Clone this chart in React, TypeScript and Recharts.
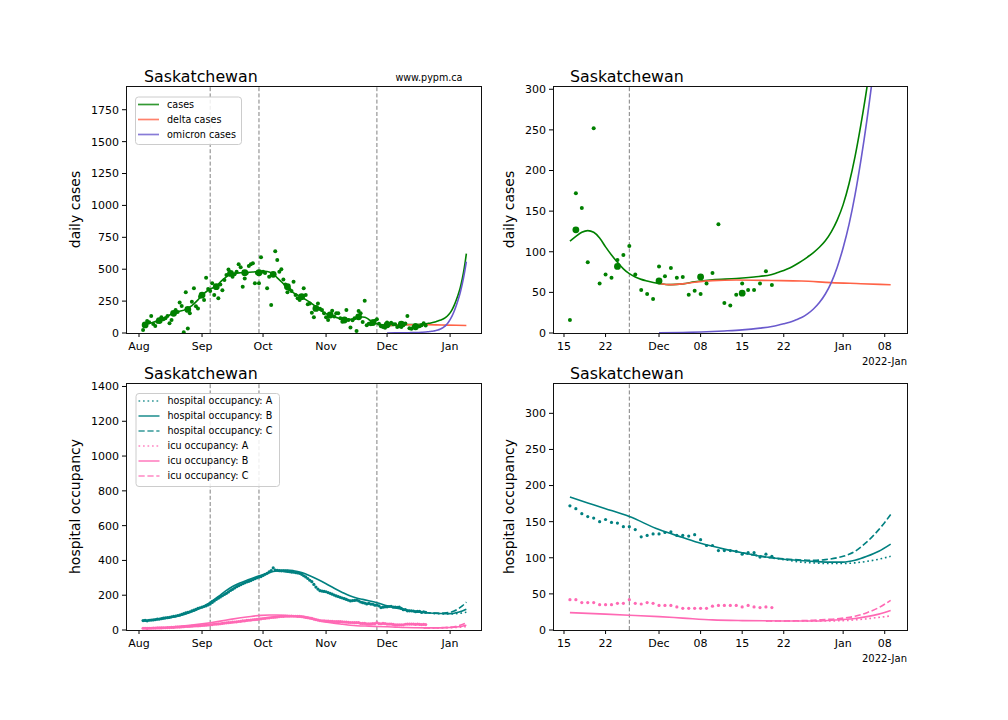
import React from "react";
import { ComposedChart, Line, ReferenceLine, Scatter, XAxis, YAxis } from "recharts";

const FONT = "DejaVu Sans, sans-serif";

// day 0 = 2021-08-01
const monthTickDays = [0, 31, 61, 92, 122, 153];
const monthTickLabels = ["Aug", "Sep", "Oct", "Nov", "Dec", "Jan"];
const zoomTickDays = [106, 113, 122, 129, 136, 143, 153, 160];
const zoomTickLabels = ["15", "22", "Dec", "08", "15", "22", "Jan", "08"];
const markerDays = [35, 59, 117];
const zoomFrom = 107;

const casesTicks = [0, 250, 500, 750, 1000, 1250, 1500, 1750];
const casesZoomTicks = [0, 50, 100, 150, 200, 250, 300];
const hospTicks = [0, 200, 400, 600, 800, 1000, 1200, 1400];
const hospZoomTicks = [0, 50, 100, 150, 200, 250, 300];

// daily reported cases, from day 2
const dailyStart = 2;
const dailyCases = [
  23, 60, 95, 84, 133, 70, 55, 89, 100, 123,
  107, 115, 133, 76, 102, 150, 180, 165, 240, 212,
  5, 319, 36, 154, 244, 350, 210, 193, 285, 300,
  258, 433, 345, 330, 389, 297, 360, 272, 380, 335,
  415, 455, 498, 470, 441, 460, 480, 538, 515, 363,
  428, 470, 525, 538, 546, 389, 470, 389, 593, 480,
  470, 350, 441, 220, 455, 640, 572, 480, 499, 420,
  380, 319, 342, 330, 402, 297, 272, 258, 290, 350,
  297, 226, 232, 159, 123, 200, 232, 190, 180, 154,
  123, 102, 140, 175, 130, 154, 154, 115, 89, 105,
  180, 102, 44, 100, 115, 16, 172, 154, 87, 252,
  61, 72, 68, 90, 96, 107, 72, 53, 48, 42,
  82, 70, 80, 68, 69, 47, 52, 48, 61, 74,
  134, 37, 34, 47, 61, 53, 53, 61, 76, 59,
];

const weeklyDays = [3, 10, 17, 24, 31, 38, 45, 52, 59, 66, 73, 80, 87, 94, 101, 108, 115, 122, 129, 136];
const weeklyCases = [63, 97, 154, 185, 297, 363, 467, 473, 473, 460, 363, 285, 193, 141, 102, 127, 82, 64, 69, 49];

const casesFitDays = [
  2, 5, 8, 11, 14, 17, 20, 23, 26, 29, 31, 34, 38, 41, 44, 47, 50, 53, 56, 59, 62, 64, 66, 68, 70,
  72, 74, 76, 78, 80, 82, 84, 86, 88, 90, 92, 94, 96, 98, 100, 102, 104, 106, 107, 108, 109, 110,
  111, 112, 113, 114, 115, 116, 117, 118, 119, 120, 122, 124, 126, 128, 131, 135, 138, 141, 142, 143,
  144, 145, 146, 147, 148, 149, 150, 151, 152, 153, 154, 155, 156, 157, 158, 159, 160, 161,
];
const casesFit = [
  62, 74, 90, 108, 132, 155, 170, 185, 215, 260, 295, 335, 368, 415, 452, 468, 472, 474, 478, 483,
  484, 478, 462, 432, 402, 370, 340, 315, 298, 280, 262, 242, 218, 192, 170, 152, 136, 126, 118, 110,
  107, 108, 111, 113, 119, 124, 126, 124, 117, 106, 96, 87, 79, 73, 69, 66, 64, 61, 59.5, 60.5, 63,
  65.5, 67, 69, 72, 74.5, 77, 80, 84, 88.5, 93.5, 99, 105.5, 113.5, 124.5, 139, 158, 184, 217, 257,
  302, 355, 425, 512, 622,
];

const deltaDays = [122, 124, 126, 128, 131, 135, 141, 146, 151, 156, 161];
const deltaCases = [61, 59.5, 60.5, 62.5, 64.5, 65.2, 64.6, 64, 62, 60.7, 59.3];

const omicronDays = [
  122, 126, 130, 133, 136, 139, 141, 142, 143, 144, 145, 146, 147, 148, 149, 150, 151, 152, 153, 154,
  155, 156, 157, 158, 159, 160, 161,
];
const omicronCases = [
  0.3, 0.7, 1.5, 2.5, 3.8, 6, 8, 9.5, 11.3, 13.3, 16, 19, 23.5, 29.5, 37.5, 48, 62, 81, 105, 134, 170,
  213, 262, 318, 385, 465, 560,
];

// daily occupancy data, from day 2
const hospData = [
  54, 55, 53, 56, 57, 58, 60, 62, 63, 65,
  68, 70, 71, 73, 76, 78, 80, 83, 86, 90,
  94, 98, 101, 105, 110, 114, 119, 124, 128, 131,
  135, 139, 144, 150, 158, 167, 176, 183, 190, 197,
  204, 211, 219, 227, 234, 242, 249, 255, 260, 266,
  271, 276, 280, 284, 290, 295, 300, 304, 307, 314,
  320, 326, 334, 342, 357, 345, 343, 341, 340, 340,
  338, 337, 335, 333, 332, 330, 328, 326, 320, 312,
  305, 296, 286, 278, 262, 247, 235, 226, 224, 222,
  220, 215, 211, 206, 201, 196, 192, 188, 184, 180,
  176, 171, 167, 169, 170, 172, 168, 161, 157, 155,
  150, 153, 149, 148, 143, 143, 139, 129, 131, 133,
  133, 135, 136, 131, 131, 130, 132, 125, 117, 117,
  110, 110, 110, 109, 105, 107, 107, 101, 105, 102,
];
const icuData = [
  10, 10, 9, 10, 10, 11, 11, 12, 12, 12,
  13, 13, 14, 14, 15, 15, 16, 17, 17, 18,
  19, 20, 20, 21, 22, 23, 24, 24, 25, 26,
  27, 28, 29, 30, 31, 33, 34, 35, 36, 38,
  40, 41, 42, 43, 45, 46, 47, 49, 50, 52,
  53, 55, 56, 57, 59, 60, 61, 63, 64, 66,
  67, 69, 70, 72, 73, 74, 75, 77, 78, 78,
  79, 79, 79, 80, 79, 79, 78, 78, 77, 75,
  73, 71, 69, 67, 63, 60, 57, 54, 53, 52,
  51, 51, 50, 50, 49, 49, 48, 48, 47, 46,
  45, 44, 43, 43, 42, 42, 42, 38, 38, 38,
  35, 35, 35, 37, 37, 42, 37, 36, 38, 37,
  34, 34, 34, 32, 30, 30, 30, 30, 30, 33,
  34, 34, 34, 34, 32, 34, 32, 31, 32, 31,
];

const hospBDays = [
  2, 6, 10, 15, 20, 25, 30, 33, 36, 40, 43, 46, 50, 54, 58, 62, 66, 70, 73, 76, 80, 84, 88, 92, 96,
  100, 104, 107, 110, 113, 117, 122, 126, 129, 133, 136, 140, 143, 148, 150, 153, 155, 157, 159, 161,
];
const hospB = [
  54, 57, 62, 70, 82, 100, 125, 145, 168, 200, 228, 250, 272, 290, 307, 322, 336, 343, 345, 341,
  330, 312, 290, 266, 240, 216, 195, 184, 176, 168, 157, 139, 128, 120, 112, 107, 101, 98, 95, 94,
  94, 96.5, 102, 109, 119,
];
const hospADays = [136, 140, 143, 146, 148, 150, 152, 153, 155, 157, 159, 161];
const hospA = [107, 101, 97.5, 94, 93, 92, 92, 92, 93, 95, 98, 102];
const hospCDays = [136, 140, 143, 146, 148, 150, 152, 153, 154, 155, 156, 157, 158, 159, 160, 161];
const hospC = [107, 101, 98.5, 97, 96.5, 97.5, 100, 102, 105, 109, 115, 122, 130, 139, 149, 160];

const icuBDays = [
  2, 6, 10, 15, 20, 25, 30, 35, 40, 45, 50, 55, 60, 64, 68, 72, 76, 80, 85, 90, 95, 100, 104, 107,
  110, 113, 117, 122, 126, 131, 136, 143, 148, 151, 153, 155, 157, 159, 161,
];
const icuB = [
  10, 11, 13, 16, 21, 27, 34, 42, 51, 61, 70, 78, 84, 86, 86, 84, 80, 75, 63, 51, 41, 33, 27, 24,
  23, 22, 20.5, 18.5, 16.5, 14, 13, 12.5, 12.5, 13.5, 14.5, 16, 18.5, 22, 27,
];
const icuADays = [140, 143, 148, 150, 153, 155, 157, 159, 161];
const icuA = [12.5, 12.5, 12.3, 12.5, 13, 14, 15.5, 17.5, 19.5];
const icuCDays = [140, 143, 146, 148, 150, 152, 153, 155, 157, 159, 161];
const icuC = [12.5, 12.5, 13, 13.5, 14.5, 15.5, 16.5, 19, 24, 31, 41];

type Pt = { day: number; v: number };
const pairs = (days: number[], vals: number[]): Pt[] => days.map((d, i) => ({ day: d, v: vals[i] }));
const daily = (start: number, vals: number[]): Pt[] => vals.map((v, i) => ({ day: start + i, v }));
const recent = (pts: Pt[]) => pts.filter((p) => p.day >= zoomFrom);

const casesPts = daily(dailyStart, dailyCases);
const weeklyPts = pairs(weeklyDays, weeklyCases);
const fitPts = pairs(casesFitDays, casesFit);
const deltaPts = pairs(deltaDays, deltaCases);
const omicronPts = pairs(omicronDays, omicronCases);
const hospPts = daily(dailyStart, hospData);
const icuPts = daily(dailyStart, icuData);

const DOTTED = "1.7 2.8";
const DASHED = "6.2 2.7";

const caseSeries = [
  { name: "cases", color: "#008000", dash: "" },
  { name: "delta cases", color: "#ff6347", dash: "" },
  { name: "omicron cases", color: "#6a5acd", dash: "" },
];
const occSeries = [
  { name: "hospital occupancy: A", color: "#008080", dash: DOTTED },
  { name: "hospital occupancy: B", color: "#008080", dash: "" },
  { name: "hospital occupancy: C", color: "#008080", dash: DASHED },
  { name: "icu occupancy: A", color: "#ff69b4", dash: DOTTED },
  { name: "icu occupancy: B", color: "#ff69b4", dash: "" },
  { name: "icu occupancy: C", color: "#ff69b4", dash: DASHED },
];

const YW = 60;
const MR = 10;
const MT = 10;
const XH = 30;

type PanelProps = {
  x: number;
  y: number;
  w: number;
  h: number;
  xDomain: [number, number];
  xTicks: number[];
  xLabels: string[];
  yDomain: [number, number];
  yTicks: number[];
  children: React.ReactNode;
};

function Panel({ x, y, w, h, xDomain, xTicks, xLabels, yDomain, yTicks, children }: PanelProps) {
  const fmt = (d: number) => xLabels[xTicks.indexOf(d)] ?? "";
  const tick = { fill: "#000", fontSize: 11, fontFamily: FONT };
  return (
    <>
      <div style={{ position: "absolute", left: x - YW, top: y - MT }}>
        <ComposedChart
          width={YW + w + MR}
          height={MT + h + XH}
          margin={{ top: MT, right: MR, bottom: 0, left: 0 }}
        >
          <XAxis
            type="number"
            dataKey="day"
            domain={xDomain}
            ticks={xTicks}
            tickFormatter={fmt}
            interval={0}
            allowDataOverflow
            axisLine={false}
            tickLine={{ stroke: "#000" }}
            tickSize={4}
            tickMargin={5}
            tick={tick}
            height={XH}
          />
          <YAxis
            type="number"
            dataKey="v"
            domain={yDomain}
            ticks={yTicks}
            interval={0}
            allowDataOverflow
            axisLine={false}
            tickLine={{ stroke: "#000" }}
            tickSize={4}
            tickMargin={3}
            tick={tick}
            width={YW}
          />
          {markerDays.map((d) => (
            <ReferenceLine key={d} x={d} stroke="#808080" strokeWidth={1} strokeDasharray="4 2.2" />
          ))}
          {children}
        </ComposedChart>
      </div>
      <div
        style={{
          position: "absolute",
          left: x,
          top: y,
          width: w + 1,
          height: h + 1,
          border: "1px solid #111",
          boxSizing: "border-box",
          pointerEvents: "none",
        }}
      />
    </>
  );
}

const dot = (r: number, color: string) => (p: any) =>
  <circle cx={p.cx} cy={p.cy} r={r} fill={color} />;

type Item = { name: string; color: string; dash: string };

function LegendBox({ x, y, w, h, items }: { x: number; y: number; w: number; h: number; items: Item[] }) {
  return (
    <g>
      <rect x={x + 0.5} y={y + 0.5} width={w} height={h} rx={3} fill="#fff" fillOpacity={0.85} stroke="#cccccc" />
      {items.map((it, i) => {
        const cy = y + 8 + i * 15;
        return (
          <g key={it.name}>
            <line x1={x + 3} x2={x + 24} y1={cy} y2={cy} stroke={it.color} strokeOpacity={0.8} strokeWidth={1.7} strokeDasharray={it.dash} />
            <text x={x + 32} y={cy + 3.4} fontSize={9.6} fill="#000">
              {it.name}
            </text>
          </g>
        );
      })}
    </g>
  );
}

function caseLines(pts: { fit: Pt[]; delta: Pt[]; omicron: Pt[] }) {
  return [
    <Line key="fit" data={pts.fit} dataKey="v" type="monotone" stroke="#008000" strokeWidth={1.6} dot={false} isAnimationActive={false} />,
    <Line key="delta" data={pts.delta} dataKey="v" type="monotone" stroke="#ff6347" strokeWidth={1.6} dot={false} isAnimationActive={false} />,
    <Line key="omi" data={pts.omicron} dataKey="v" type="monotone" stroke="#6a5acd" strokeWidth={1.6} dot={false} isAnimationActive={false} />,
  ];
}

function occLines(from: number) {
  const f = (p: Pt[]) => p.filter((q) => q.day >= from);
  const items = [
    { pts: pairs(hospBDays, hospB), color: "#008080", dash: "" },
    { pts: pairs(hospCDays, hospC), color: "#008080", dash: DASHED },
    { pts: pairs(hospADays, hospA), color: "#008080", dash: DOTTED },
    { pts: pairs(icuBDays, icuB), color: "#ff69b4", dash: "" },
    { pts: pairs(icuCDays, icuC), color: "#ff69b4", dash: DASHED },
    { pts: pairs(icuADays, icuA), color: "#ff69b4", dash: DOTTED },
  ];
  return items.map((s, i) => (
    <Line
      key={i}
      data={f(s.pts)}
      dataKey="v"
      type="monotone"
      stroke={s.color}
      strokeWidth={1.6}
      strokeDasharray={s.dash}
      dot={false}
      isAnimationActive={false}
    />
  ));
}

export default function App() {
  const leftX: [number, number] = [-6.4, 168.2];
  const rightX: [number, number] = [104.15, 163.75];
  return (
    <div style={{ position: "absolute", left: 0, top: 0, width: 1008, height: 720, background: "#fff", fontFamily: FONT }}>
      <Panel x={126} y={86} w={355} h={247} xDomain={leftX} xTicks={monthTickDays} xLabels={monthTickLabels} yDomain={[0, 1936]} yTicks={casesTicks}>
        <Scatter data={casesPts} dataKey="v" fill="#008000" shape={dot(2, "#008000")} isAnimationActive={false} />
        <Scatter data={weeklyPts} dataKey="v" fill="#008000" shape={dot(3.4, "#008000")} isAnimationActive={false} />
        {caseLines({ fit: fitPts, delta: deltaPts, omicron: omicronPts })}
      </Panel>
      <Panel x={553} y={86} w={354} h={247} xDomain={rightX} xTicks={zoomTickDays} xLabels={zoomTickLabels} yDomain={[0, 304]} yTicks={casesZoomTicks}>
        <Scatter data={recent(casesPts)} dataKey="v" fill="#008000" shape={dot(2, "#008000")} isAnimationActive={false} />
        <Scatter data={recent(weeklyPts)} dataKey="v" fill="#008000" shape={dot(3.4, "#008000")} isAnimationActive={false} />
        {caseLines({ fit: recent(fitPts), delta: deltaPts, omicron: omicronPts })}
      </Panel>
      <Panel x={126} y={383} w={355} h={247} xDomain={leftX} xTicks={monthTickDays} xLabels={monthTickLabels} yDomain={[0, 1420]} yTicks={hospTicks}>
        <Scatter data={hospPts} dataKey="v" fill="#008080" shape={dot(1.6, "#008080")} isAnimationActive={false} />
        <Scatter data={icuPts} dataKey="v" fill="#ff69b4" shape={dot(1.6, "#ff69b4")} isAnimationActive={false} />
        {occLines(0)}
      </Panel>
      <Panel x={553} y={383} w={354} h={247} xDomain={rightX} xTicks={zoomTickDays} xLabels={zoomTickLabels} yDomain={[0, 342]} yTicks={hospZoomTicks}>
        <Scatter data={recent(hospPts)} dataKey="v" fill="#008080" shape={dot(1.6, "#008080")} isAnimationActive={false} />
        <Scatter data={recent(icuPts)} dataKey="v" fill="#ff69b4" shape={dot(1.6, "#ff69b4")} isAnimationActive={false} />
        {occLines(zoomFrom)}
      </Panel>

      <svg width={1008} height={720} style={{ position: "absolute", left: 0, top: 0, pointerEvents: "none" }} fontFamily={FONT}>
        <text x={144} y={82} fontSize={15.8} fill="#000">Saskatchewan</text>
        <text x={570} y={82} fontSize={15.8} fill="#000">Saskatchewan</text>
        <text x={144} y={379} fontSize={15.8} fill="#000">Saskatchewan</text>
        <text x={570} y={379} fontSize={15.8} fill="#000">Saskatchewan</text>
        <text x={462.5} y={81} fontSize={9.6} textAnchor="end" fill="#000">www.pypm.ca</text>
        <text x={907} y={365} fontSize={10} textAnchor="end" fill="#000">2022-Jan</text>
        <text x={907} y={662} fontSize={10} textAnchor="end" fill="#000">2022-Jan</text>
        <text x={80} y={209.5} fontSize={14} textAnchor="middle" fill="#000" transform="rotate(-90 80 209.5)">daily cases</text>
        <text x={514} y={209.5} fontSize={14} textAnchor="middle" fill="#000" transform="rotate(-90 514 209.5)">daily cases</text>
        <text x={80} y={506.5} fontSize={14} textAnchor="middle" fill="#000" transform="rotate(-90 80 506.5)">hospital occupancy</text>
        <text x={514} y={506.5} fontSize={14} textAnchor="middle" fill="#000" transform="rotate(-90 514 506.5)">hospital occupancy</text>
        <LegendBox x={135} y={96.5} w={106} h={47.5} items={caseSeries} />
        <LegendBox x={135.5} y={393} w={143.5} h={93} items={occSeries} />
      </svg>
    </div>
  );
}
